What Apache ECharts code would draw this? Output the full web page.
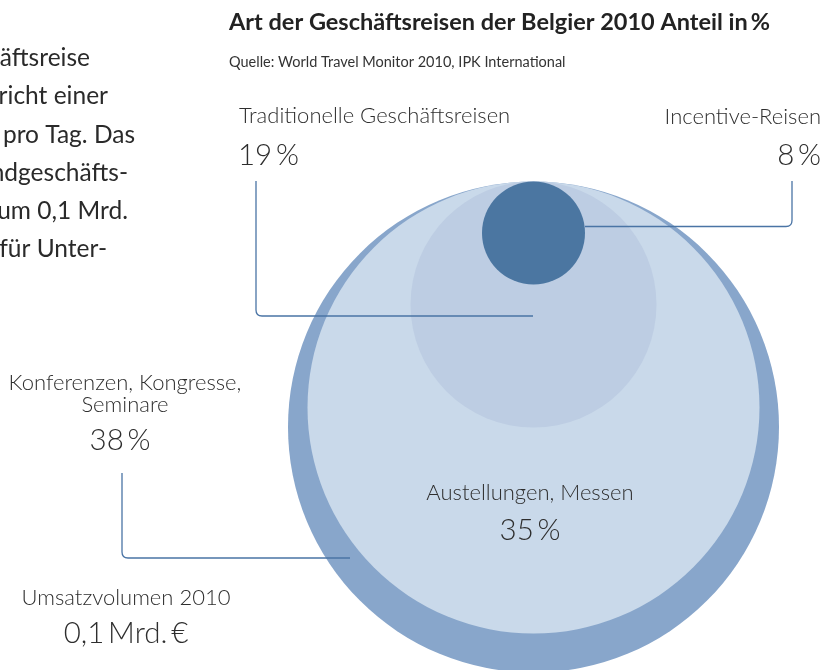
<!DOCTYPE html>
<html>
<head>
<meta charset="utf-8">
<script src="https://cdn.jsdelivr.net/npm/echarts@6/dist/echarts.min.js"></script>
<style>html,body{margin:0;padding:0;background:#fff;}#c{width:823px;height:670px;}</style>
</head>
<body>
<div id="c"></div>
<script>
// ---- data ----
const categories = ['Konferenzen, Kongresse,\nSeminare', 'Austellungen, Messen', 'Traditionelle Geschäftsreisen', 'Incentive-Reisen'];
const shares = [38, 35, 19, 8];
const totalLabel = 'Umsatzvolumen 2010';
const totalValue = '0,1\u2009Mrd.\u2009€';
const titleText = 'Art der Geschäftsreisen der Belgier 2010 Anteil in\u2009%';
const sourceText = 'Quelle: World Travel Monitor 2010, IPK International';
const bodyLines = ['äftsreise', 'richt einer', 'pro Tag. Das', 'ndgeschäfts-', 'um 0,1 Mrd.', 'für Unter-'];

// ---- layout (plot units) ----
const bodyRightEdges = [90, 108, 135, 128, 128, 107];
const circleCX = 533.5, circleTop = 181.5;
const radii = [245.5, 226, 123, 51.5];
const colors = ['#88a6cb', '#c9d9ea', '#bdcde3', '#4b76a1'];
const lineColor = '#4a74a5';
const leaders = [
  [[256, 181], [256, 316], [533, 316]],
  [[585, 226.5], [792, 226.5], [792, 181]],
  [[122, 473], [122, 558], [350, 558]]
];
const FONT = 'Lato, "Open Sans", sans-serif';
const pct = v => v + '\u2009%';

const chart = echarts.init(document.getElementById('c'), null, {renderer: 'canvas'});

function t(text, x, y, size, align, weight, color, lh) {
  return {type: 'text', z: 10, style: {text: text, x: x, y: y, fontFamily: FONT, fontSize: size,
    fontWeight: weight || 300, fill: color || '#2e2e2e', textAlign: align || 'left', textVerticalAlign: 'middle', lineHeight: lh || 22}};
}

const graphics = [
  t(titleText, 229, 22, 23.5, 'left', 'bold', '#222'),
  t(sourceText, 229, 62, 14.5, 'left', 'normal', '#333'),
  t(categories[2], 239, 116, 22),
  t(pct(shares[2]), 238, 155, 29.5),
  t(categories[3], 821, 117, 22, 'right'),
  t(pct(shares[3]), 821, 155, 29.5, 'right'),
  t(categories[0], 125, 394, 22, 'center', 300, null, 22),
  t(pct(shares[0]), 120, 440, 29.5, 'center'),
  t(categories[1], 530, 493, 22, 'center'),
  t(pct(shares[1]), 530, 530, 29.5, 'center'),
  t(totalLabel, 126, 598, 22, 'center'),
  t(totalValue, 126, 633, 29.5, 'center')
];
bodyLines.forEach((s, i) => {
  graphics.push(t(s, bodyRightEdges[i], 58 + i * 38.3, 24.5, 'right', 'normal', '#2a2a2a'));
});

function leaderPath(pts, rad) {
  const [a, b, c] = pts;
  const d1 = [Math.sign(b[0] - a[0]), Math.sign(b[1] - a[1])];
  const d2 = [Math.sign(c[0] - b[0]), Math.sign(c[1] - b[1])];
  const p1 = [b[0] - d1[0] * rad, b[1] - d1[1] * rad];
  const p2 = [b[0] + d2[0] * rad, b[1] + d2[1] * rad];
  return 'M' + a.join(' ') + ' L' + p1.join(' ') + ' Q' + b.join(' ') + ' ' + p2.join(' ') + ' L' + c.join(' ');
}

chart.setOption({
  animation: false,
  grid: {left: 0, top: 0, right: 0, bottom: 0},
  xAxis: {type: 'value', min: 0, max: 823, show: false},
  yAxis: {type: 'value', min: 0, max: 670, inverse: true, show: false},
  series: [{
    type: 'custom',
    clip: false,
    z: 1,
    data: shares.map((v, i) => [i, v]),
    renderItem: function (params, api) {
      const i = api.value(0);
      const r = radii[i];
      const c = api.coord([circleCX, circleTop + r]);
      const rs = api.size([r, r]);
      return {type: 'circle', shape: {cx: c[0], cy: c[1], r: rs[0]}, style: {fill: colors[i]}};
    }
  }, {
    type: 'custom',
    clip: false,
    z: 5,
    data: leaders.map((l, i) => [i]),
    renderItem: function (params, api) {
      const pts = leaders[api.value(0)].map(p => api.coord(p));
      return {type: 'path', shape: {pathData: leaderPath(pts, 6)}, style: {fill: 'none', stroke: lineColor, lineWidth: 1.3}};
    }
  }],
  graphic: graphics
});
</script>
</body>
</html>
